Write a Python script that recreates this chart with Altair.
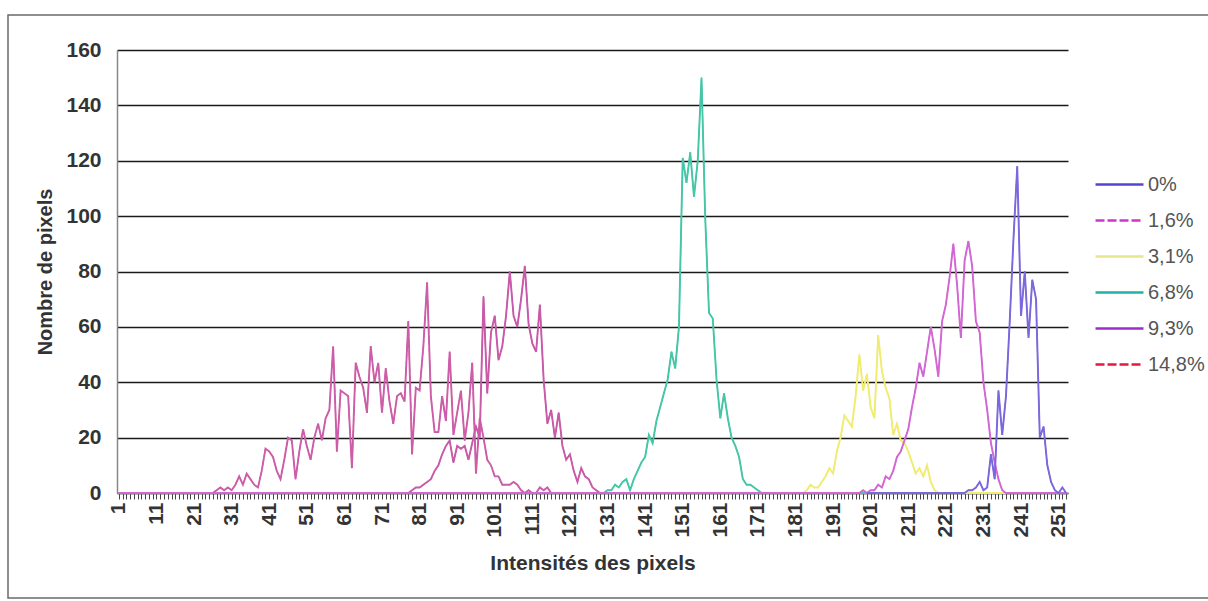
import altair as alt
import pandas as pd

# Intensity range shown on the x axis and the labelled positions
X_FIRST, X_LAST = 1, 253
X_LABELS = list(range(1, 252, 10))
Y_TICKS = list(range(0, 161, 20))

SERIES = ["0%", "1,6%", "3,1%", "6,8%", "9,3%", "14,8%"]
# colours of the drawn histogram curves
LINE_COLORS = ["#7A68DC", "#D266D4", "#F0EC70", "#45C6A6", "#C95AA7", "#CC5EA9"]
# colours / dashes of the legend keys
KEY_COLORS = ["#5444D2", "#CC36CC", "#E6E68C", "#1FB0A6", "#9A2EC8", "#E8173E"]
KEY_DASH = [[1, 0], [9, 3], [1, 0], [1, 0], [1, 0], [9, 3]]

# Pixel counts per intensity: first intensity of the window, then the counts
C0_START = 224
C0 = [0, 0, 0, 1, 1, 2, 4, 1, 2, 14, 5, 37, 21, 35, 62, 92, 118, 64, 80, 56,
      77, 70, 20, 24, 10, 4, 1, 0, 2, 0]

C1_START = 197
C1 = [0, 0, 1, 0, 1, 1, 3, 2, 6, 5, 8, 13, 15, 19, 23, 31, 38, 47, 42, 51,
      60, 52, 42, 62, 68, 78, 90, 75, 56, 84, 91, 82, 62, 58, 40, 30, 18, 11,
      5, 1, 0]

C2_START = 183
C2 = [0, 1, 3, 2, 2, 4, 6, 9, 7, 15, 20, 28, 26, 24, 35, 50, 37, 43, 31, 27,
      57, 44, 38, 34, 21, 25, 19, 18, 15, 11, 7, 9, 6, 10, 4, 1, 0]

C3_START = 129
C3 = [0, 0, 1, 1, 3, 2, 4, 5, 1, 5, 8, 11, 13, 21, 18, 26, 31, 36, 41, 51,
      45, 60, 121, 112, 123, 107, 120, 150, 99, 65, 63, 41, 27, 36, 27, 20,
      17, 13, 5, 3, 3, 2, 1, 0]

C4_START = 77
C4 = [0, 0, 1, 2, 2, 3, 4, 5, 8, 10, 14, 17, 19, 11, 17, 16, 17, 12, 18, 24,
      20, 71, 36, 58, 64, 48, 53, 64, 80, 64, 60, 70, 82, 61, 54, 51, 68, 41,
      25, 30, 20, 29, 17, 12, 14, 8, 4, 9, 6, 5, 2, 1, 0]

C5_START = 26
C5 = [0, 1, 2, 1, 2, 1, 3, 6, 3, 7, 5, 3, 2, 8, 16, 15, 13, 8, 5, 12, 20, 19,
      5, 15, 23, 17, 12, 20, 25, 19, 27, 30, 53, 15, 37, 36, 35, 9, 47, 42,
      38, 29, 53, 40, 47, 29, 45, 33, 25, 35, 36, 33, 62, 14, 38, 37, 53, 76,
      35, 22, 22, 35, 26, 51, 21, 29, 37, 19, 29, 47, 7, 27, 20, 12, 10, 6, 6,
      3, 3, 3, 4, 3, 1, 0, 1, 0, 0, 2, 1, 2, 0]

WINDOWS = {
    "0%": (C0_START, C0),
    "1,6%": (C1_START, C1),
    "3,1%": (C2_START, C2),
    "6,8%": (C3_START, C3),
    "9,3%": (C4_START, C4),
    "14,8%": (C5_START, C5),
}
# stretch of the zero baseline drawn for each curve
SPANS = {
    "0%": (200, X_LAST),
    "1,6%": (X_FIRST, X_LAST),
    "3,1%": (X_FIRST, X_LAST),
    "6,8%": (X_FIRST, X_LAST),
    "9,3%": (X_FIRST, X_LAST),
    "14,8%": (X_FIRST, X_LAST),
}
# drawing order, bottom to top
DRAW_ORDER = ["14,8%", "9,3%", "6,8%", "3,1%", "1,6%", "0%"]

rows = []
for name in DRAW_ORDER:
    start, vals = WINDOWS[name]
    lo, hi = SPANS[name]
    for x in range(lo, hi + 1):
        i = x - start
        v = vals[i] if 0 <= i < len(vals) else 0
        rows.append({"intensity": x, "count": v, "serie": name})
df = pd.DataFrame(rows)

FONT = "Liberation Sans"

x_enc = alt.X(
    "intensity:Q",
    scale=alt.Scale(domain=[X_FIRST - 0.5, X_LAST + 0.5], nice=False, zero=False),
    axis=alt.Axis(
        values=list(range(X_FIRST, X_LAST + 1)),
        labelExpr="(datum.value - 1) % 10 == 0 ? datum.label : ''",
        labelAngle=-90,
        labelOverlap=False,
        labelFontSize=21,
        labelFontWeight="bold",
        labelColor="#333333",
        labelPadding=3,
        tickSize=6,
        tickColor="#444444",
        tickWidth=1,
        domainColor="#888888",
        domainWidth=1.5,
        grid=False,
        title="Intensités des pixels",
        titleFontSize=21,
        titleFontWeight="bold",
        titleColor="#333333",
        titlePadding=15,
    ),
)
y_enc = alt.Y(
    "count:Q",
    scale=alt.Scale(domain=[0, 160], nice=False),
    axis=alt.Axis(
        values=Y_TICKS,
        grid=True,
        gridColor="#1a1a1a",
        gridWidth=1.4,
        ticks=False,
        domainColor="#888888",
        domainWidth=1.5,
        labelFontSize=21,
        labelFontWeight="bold",
        labelColor="#333333",
        labelPadding=16,
        title="Nombre de pixels",
        titleFontSize=20,
        titleFontWeight="bold",
        titleColor="#333333",
        titlePadding=10,
    ),
)

# one shared legend for colour and dash
KEY_LEGEND = dict(
    title=None,
    orient="none",
    legendX=977,
    legendY=109,
    symbolType="stroke",
    symbolSize=2300,
    symbolStrokeWidth=2.5,
    symbolOpacity=1,
    labelFontSize=20,
    labelColor="#555555",
    labelFont=FONT,
    labelOffset=3,
    rowPadding=-4,
)

# legend-coloured keys, hidden beneath the drawn curves
keys = alt.Chart(df).mark_line(strokeWidth=1).encode(
    x=x_enc,
    y=y_enc,
    color=alt.Color(
        "serie:N",
        scale=alt.Scale(domain=SERIES, range=KEY_COLORS),
        legend=alt.Legend(**KEY_LEGEND),
    ),
    strokeDash=alt.StrokeDash(
        "serie:N",
        scale=alt.Scale(domain=SERIES, range=KEY_DASH),
        legend=alt.Legend(**KEY_LEGEND),
    ),
)

curves = alt.Chart(df).mark_line(strokeWidth=1.9).encode(
    x=x_enc,
    y=y_enc,
    stroke=alt.Stroke(
        "serie:N",
        scale=alt.Scale(domain=SERIES, range=LINE_COLORS),
        legend=None,
    ),
    detail="serie:N",
)

frame = alt.Chart(pd.DataFrame({"k": [0]})).mark_rect(
    fillOpacity=0, stroke="#6a6a6a", strokeWidth=1.5
).encode(
    x=alt.value(-109), x2=alt.value(1100), y=alt.value(-35), y2=alt.value(548)
)

chart = (
    alt.layer(frame, keys, curves)
    .properties(
        width=951,
        height=443,
        autosize=alt.AutoSizeParams(type="none"),
        padding={"left": 117, "top": 50, "right": 140, "bottom": 108},
    )
    .configure(font=FONT)
    .configure_view(stroke=None)
)

chart.save("out.html", embed_options={"renderer": "svg", "actions": False})
